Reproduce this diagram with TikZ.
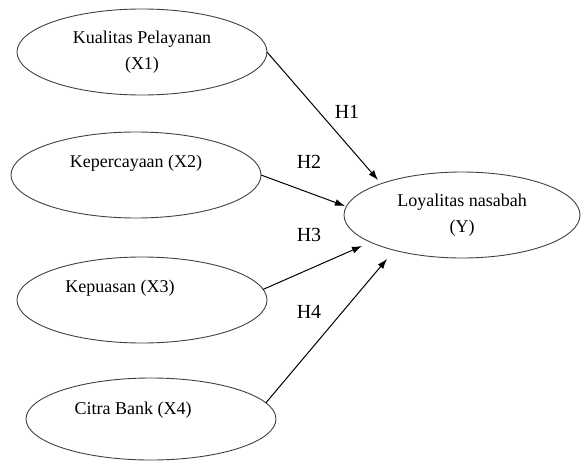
\documentclass[tikz,border=0pt]{standalone}
\usepackage{fontspec}
\setmainfont{LiberationSerif}[Extension=.ttf,UprightFont=*-Regular,BoldFont=*-Bold]
\usetikzlibrary{arrows.meta,shapes}

\begin{document}
\begin{tikzpicture}[x=1pt,y=-1pt,
  every node/.style={font=\fontsize{18}{26}\selectfont},
  latent/.style={ellipse,draw=black!75,line width=0.9pt,minimum width=250pt,minimum height=86pt,inner sep=0pt,outer sep=0pt,align=center},
  hyp/.style={-{Latex[length=10pt,width=7pt]},line width=1pt},
  hlabel/.style={font=\fontsize{20}{24}\selectfont}]
\useasboundingbox (0,0) rectangle (581,463);
% latent variables
\node[latent] (X1) at (142,52) {Kualitas Pelayanan\\(X1)};
\node[latent] (X2) at (136,175) {};
\node[latent] (X3) at (142,300) {};
\node[latent,minimum height=82pt] (X4) at (151,419) {};
\node[latent,minimum width=236pt] (Y) at (462,215) {Loyalitas nasabah\\(Y)};
\node (tX2) at (136,163) {Kepercayaan (X2)};
\node (tX3) at (120,288) {Kepuasan (X3)};
\node (tX4) at (133,410) {Citra Bank (X4)};
% hypotheses
\coordinate (h1) at (378,180);
\coordinate (h2) at (345,206);
\coordinate (h3) at (362,246);
\coordinate (h4) at (387,259);
\draw[hyp] (X1.east) -- (h1);
\draw[hyp] (X2.east) -- (h2);
\draw[hyp] (X3.5) -- (h3);
\draw[hyp] (X4.8) -- (h4);
\node[hlabel] (H1) at (347,112) {H1};
\node[hlabel] (H2) at (309,162) {H2};
\node[hlabel] (H3) at (309,235) {H3};
\node[hlabel] (H4) at (309,312) {H4};
\end{tikzpicture}
\end{document}
